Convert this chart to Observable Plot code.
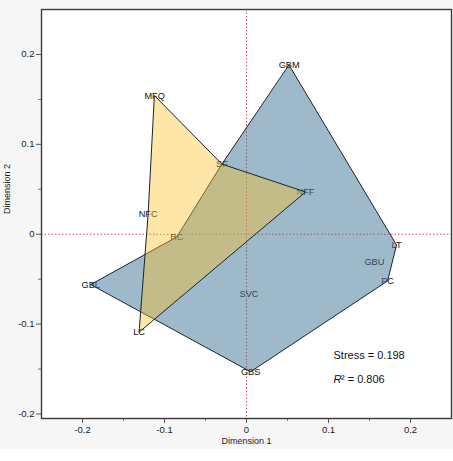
<!DOCTYPE html>
<html>
<head>
<meta charset="utf-8">
<script src="https://cdn.jsdelivr.net/npm/d3@7"></script>
<script src="https://cdn.jsdelivr.net/npm/@observablehq/plot@0.6"></script>
<style>
  html, body { margin: 0; padding: 0; background: #ffffff; }
  #chart svg { display: block; }
</style>
</head>
<body>
<div id="chart"></div>
<script>
// Point names and their MDS coordinates
const names = ["GBM", "LT", "GBU", "PC", "GBS", "SVC", "GBL", "RC", "SF", "NFF", "NFC", "MFQ", "LC"];
const dim1  = [0.052, 0.183, 0.156, 0.172, 0.005, 0.003, -0.190, -0.085, -0.030, 0.072, -0.120, -0.112, -0.131];
const dim2  = [0.188, -0.012, -0.031, -0.052, -0.153, -0.066, -0.056, -0.003, 0.078, 0.047, 0.022, 0.154, -0.109];

// Polygon outlines (point names in drawing order)
const groupBlue   = ["GBM", "LT", "PC", "GBS", "GBL", "RC", "SF"];
const groupYellow = ["MFQ", "SF", "NFF", "LC", "NFC"];

// Axis ticks
const majorTicks = [-0.2, -0.1, 0, 0.1, 0.2];
const minorTicks = [-0.15, -0.05, 0.05, 0.15];

// Fit statistics
const stressValue = "0.198";
const r2Value = "0.806";

const points = names.map((n, i) => ({name: n, x: dim1[i], y: dim2[i]}));
const byName = new Map(points.map(p => [p.name, p]));
const polyBlue = groupBlue.map(n => byName.get(n));
const polyYellow = groupYellow.map(n => byName.get(n));

const fmt = d => d === 0 ? "0" : String(d).replace("\u2212", "-");
const font = "'Liberation Sans', Arial, Helvetica, sans-serif";

const chart = Plot.plot({
  width: 453,
  height: 449,
  marginLeft: 41,
  marginRight: 2,
  marginTop: 9,
  marginBottom: 31,
  style: {background: "#f6f6f6", fontFamily: font, color: "#222"},
  x: {domain: [-0.25, 0.25]},
  y: {domain: [-0.205, 0.25]},
  marks: [
    Plot.frame({fill: "white", stroke: "none"}),
    Plot.ruleX([0], {stroke: "#d4485c", strokeWidth: 1, strokeDasharray: "1.5,2"}),
    Plot.ruleY([0], {stroke: "#d4485c", strokeWidth: 1, strokeDasharray: "1.5,2"}),
    Plot.text(points, {x: "x", y: "y", text: "name", fill: "#111", fontSize: 9.2, lineAnchor: "middle"}),
    Plot.line(polyBlue, {x: "x", y: "y", curve: "linear-closed", fill: "#3d7595", fillOpacity: 0.5, stroke: "#16242e", strokeWidth: 1}),
    Plot.line(polyYellow, {x: "x", y: "y", curve: "linear-closed", fill: "#fac025", fillOpacity: 0.4, stroke: "#16242e", strokeWidth: 1}),
    Plot.axisX({ticks: majorTicks, tickFormat: fmt, tickSize: 5, tickPadding: 3, fontSize: 9.5, label: null, stroke: "#555"}),
    Plot.axisX({ticks: minorTicks, tickSize: 3, text: null, label: null, stroke: "#777"}),
    Plot.axisY({ticks: majorTicks, tickFormat: fmt, tickSize: 5, tickPadding: 2, fontSize: 9.5, label: null, stroke: "#555"}),
    Plot.axisY({ticks: minorTicks, tickSize: 3, text: null, label: null, stroke: "#777"}),
    Plot.frame({stroke: "#3a3a3a", strokeWidth: 1.4}),
    Plot.text(["Dimension 1"], {frameAnchor: "bottom", dy: 25, fontSize: 9, fill: "#222"}),
    Plot.text(["Dimension 2"], {frameAnchor: "left", dx: -34, rotate: -90, fontSize: 9, fill: "#222"}),
    Plot.text(["Stress = " + stressValue], {frameAnchor: "bottom-left", dx: 292, dy: -60, textAnchor: "start", fontSize: 11, fill: "#111"}),
    Plot.text(["R"], {frameAnchor: "bottom-left", dx: 292, dy: -35.5, textAnchor: "start", fontSize: 11, fontStyle: "italic", fill: "#111"}),
    Plot.text(["\u00b2 = " + r2Value], {frameAnchor: "bottom-left", dx: 299.5, dy: -35.5, textAnchor: "start", fontSize: 11, fill: "#111"})
  ]
});
document.getElementById("chart").appendChild(chart);
</script>
</body>
</html>
